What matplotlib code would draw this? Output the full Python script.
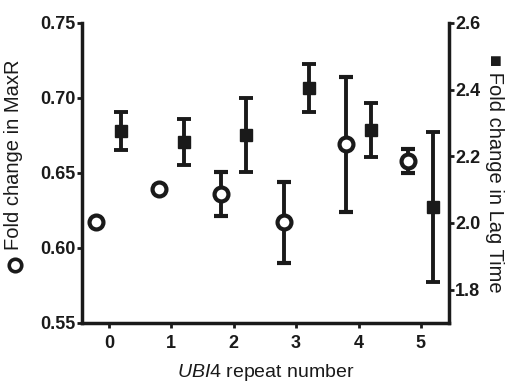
import numpy as np
from matplotlib import pyplot as plt
from matplotlib.lines import Line2D

plt.rcParams['font.family'] = ['Liberation Sans', 'DejaVu Sans']
plt.rcParams['mathtext.fontset'] = 'custom'
plt.rcParams['mathtext.it'] = 'Liberation Sans:italic'
plt.rcParams['mathtext.rm'] = 'Liberation Sans'

# data
repeats = [0, 1, 2, 3, 4, 5]
maxr = [0.617, 0.639, 0.636, 0.617, 0.669, 0.658]
maxr_err = [0.0, 0.002, 0.0145, 0.027, 0.045, 0.008]
lag = [2.276, 2.243, 2.264, 2.405, 2.279, 2.048]
lag_err = [0.058, 0.068, 0.111, 0.073, 0.081, 0.225]

x = np.array(repeats, dtype=float)
offset = 0.2
ink = '#1a1a1a'

fig = plt.figure(figsize=(5.17, 3.83), dpi=100)
ax = fig.add_axes([0.1586, 0.1567, 0.7099, 0.7833])
ax2 = ax.twinx()

ax.errorbar(x - offset, maxr, yerr=maxr_err, fmt='o', mfc='white', mec=ink,
            mew=3, ms=10, ecolor=ink, elinewidth=2.8, capsize=5, capthick=2.8, zorder=3)
ax2.errorbar(x + offset, lag, yerr=lag_err, fmt='s', mfc=ink, mec=ink,
             ms=8, ecolor=ink, elinewidth=2.8, capsize=5, capthick=2.8, zorder=3)

ax.set_xlim(-0.43, 5.45)
ax.set_ylim(0.55, 0.75)
ax2.set_ylim(1.7, 2.6)
ax.set_xticks(repeats)
ax.set_yticks([0.55, 0.60, 0.65, 0.70, 0.75])
ax2.set_yticks([1.8, 2.0, 2.2, 2.4, 2.6])
ax.set_yticklabels(['0.55', '0.60', '0.65', '0.70', '0.75'])

for a in (ax, ax2):
    a.spines['top'].set_visible(False)
    for s in a.spines.values():
        s.set_linewidth(2.5)
        s.set_color(ink)
    a.tick_params(width=2, length=3.5, labelsize=13, colors=ink, pad=1)
    for lab in a.get_xticklabels() + a.get_yticklabels():
        lab.set_fontweight('bold')
ax.spines['right'].set_visible(False)
ax2.spines['left'].set_visible(False)
ax2.spines['bottom'].set_visible(False)
ax.tick_params(axis='x', pad=5)

# left label with a ring symbol like the series marker
ax.set_ylabel('Fold change in MaxR', fontsize=14.5, color=ink)
ax.yaxis.set_label_coords(-0.162, 0.56)
fig.add_artist(Line2D([15 / 517], [1 - 265 / 383], marker='o', mfc='white', mec=ink,
                      mew=2.6, ms=9, transform=fig.transFigure))

ax2.set_ylabel('\u25a0 Fold change in Lag Time', fontsize=14.5, rotation=270, labelpad=17, color=ink)
ax.set_xlabel(r'$\it{UBI4}$ repeat number', fontsize=14, labelpad=7, color=ink)

plt.savefig('out.png', dpi=100)
